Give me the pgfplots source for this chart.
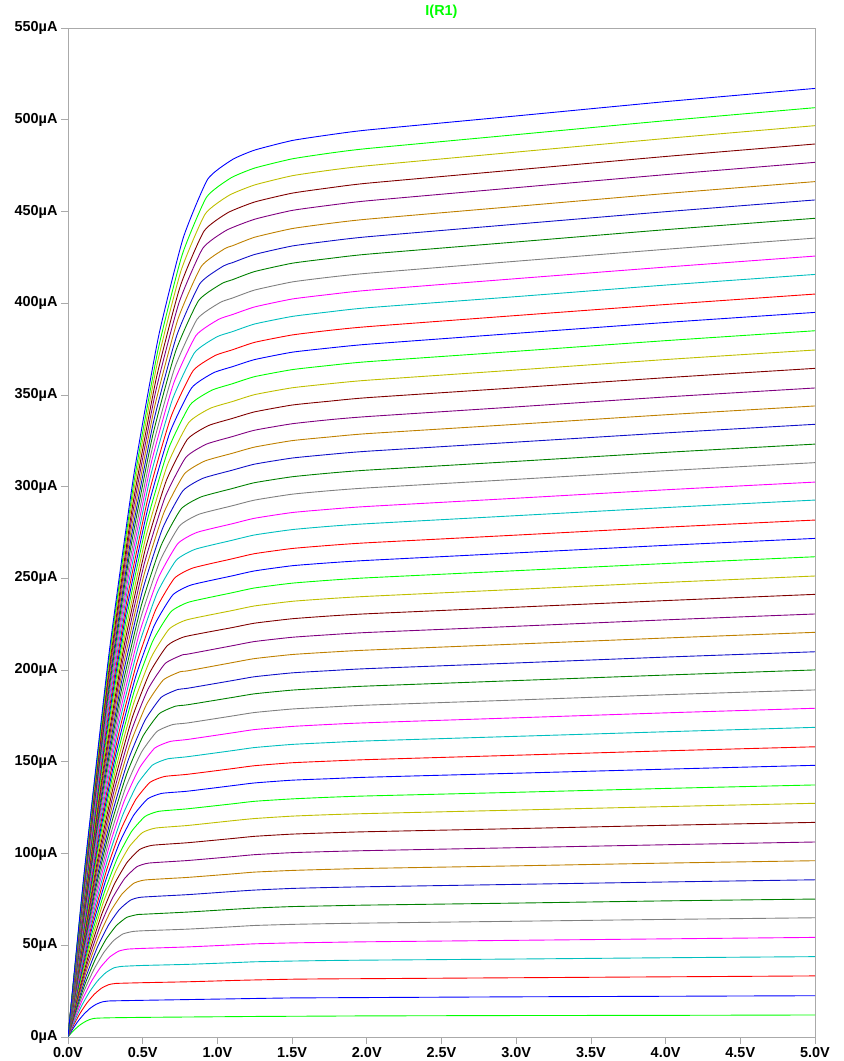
\documentclass[border=0pt]{standalone}
\usepackage{fontspec}
\setmainfont{Liberation Sans}
\usepackage{pgfplots}
\pgfplotsset{compat=1.18}
\definecolor{c1}{RGB}{0,255,0}
\definecolor{c2}{RGB}{0,0,255}
\definecolor{c3}{RGB}{255,0,0}
\definecolor{c4}{RGB}{0,191,191}
\definecolor{c5}{RGB}{255,0,255}
\definecolor{c6}{RGB}{128,128,128}
\definecolor{c7}{RGB}{0,128,0}
\definecolor{c8}{RGB}{16,16,200}
\definecolor{c9}{RGB}{191,128,0}
\definecolor{c10}{RGB}{128,0,128}
\definecolor{c11}{RGB}{128,0,0}
\definecolor{c12}{RGB}{191,191,0}
\definecolor{framegray}{RGB}{170,170,170}
\begin{document}
\begin{tikzpicture}
\path[use as bounding box] (0,0) rectangle (844bp,1061bp);
\begin{axis}[
  at={(68bp,24bp)}, anchor=south west,
  scale only axis, width=747bp, height=1009bp,
  xmin=0, xmax=5, ymin=0, ymax=550,
  xtick={0,0.5,1,1.5,2,2.5,3,3.5,4,4.5,5},
  xticklabels={0.0V,0.5V,1.0V,1.5V,2.0V,2.5V,3.0V,3.5V,4.0V,4.5V,5.0V},
  ytick={0,50,100,150,200,250,300,350,400,450,500,550},
  yticklabels={0µA,50µA,100µA,150µA,200µA,250µA,300µA,350µA,400µA,450µA,500µA,550µA},
  tick align=outside, xtick pos=bottom, ytick pos=left,
  major tick length=7bp,
  every tick/.style={color=framegray, line width=0.8bp},
  axis line style={color=framegray, line width=1bp},
  ticklabel style={font=\fontsize{14.5}{14.5}\selectfont\bfseries},
  title={\textcolor{c1}{I(R1)}},
  title style={font=\fontsize{14.5}{14.5}\selectfont\bfseries, at={(0.5,1)}, anchor=center, yshift=10bp},
  every axis plot/.append style={line width=0.9bp, smooth, tension=0.3},
]
\addplot[c1] coordinates {(0,0)(0.0202,2.0)(0.0505,4.5)(0.0808,6.6)(0.1111,8.2)(0.1414,9.4)(0.1717,10.1)(0.202,10.3)(0.3,10.5)(0.5,10.7)(0.8,10.9)(1.1,11.1)(1.25,11.2)(1.5,11.3)(1.75,11.4)(2,11.5)(3,11.7)(4,11.8)(5,12.0)};
\addplot[c2] coordinates {(0,0)(0.0268,3.7)(0.067,8.6)(0.1072,12.5)(0.1474,15.6)(0.1876,17.8)(0.2278,19.1)(0.268,19.6)(0.3,19.7)(0.5,20.0)(0.8,20.4)(1.1,20.8)(1.25,21.0)(1.5,21.3)(1.75,21.4)(2,21.5)(3,21.9)(4,22.2)(5,22.5)};
\addplot[c3] coordinates {(0,0)(0.032,5.6)(0.08,12.8)(0.128,18.7)(0.176,23.3)(0.224,26.6)(0.272,28.5)(0.32,29.2)(0.5,29.6)(0.8,30.1)(1.1,30.8)(1.25,31.1)(1.5,31.5)(1.75,31.7)(2,31.8)(3,32.3)(4,32.8)(5,33.3)};
\addplot[c4] coordinates {(0,0)(0.0362,7.3)(0.0905,16.9)(0.1448,24.7)(0.1991,30.7)(0.2534,35.1)(0.3077,37.7)(0.362,38.5)(0.5,39.0)(0.8,39.6)(1.1,40.5)(1.25,41.0)(1.5,41.4)(1.75,41.7)(2,41.9)(3,42.5)(4,43.2)(5,43.8)};
\addplot[c5] coordinates {(0,0)(0.0399,9.1)(0.0998,21.0)(0.1596,30.7)(0.2195,38.2)(0.2793,43.6)(0.3392,46.8)(0.399,47.9)(0.5,48.3)(0.8,49.1)(1.1,50.2)(1.25,50.8)(1.5,51.3)(1.75,51.6)(2,51.9)(3,52.7)(4,53.5)(5,54.3)};
\addplot[c6] coordinates {(0,0)(0.0433,10.9)(0.1083,25.2)(0.1732,36.8)(0.2382,45.9)(0.3031,52.4)(0.3681,56.2)(0.433,57.5)(0.5,57.9)(0.8,58.8)(1.1,60.1)(1.25,60.8)(1.5,61.4)(1.75,61.8)(2,62.1)(3,63.1)(4,64.1)(5,65.0)};
\addplot[c7] coordinates {(0,0)(0.0462,12.7)(0.1155,29.2)(0.1848,42.7)(0.2541,53.2)(0.3234,60.7)(0.3927,65.2)(0.462,66.7)(0.5,66.9)(0.8,68.1)(1.1,69.6)(1.25,70.3)(1.5,71.1)(1.75,71.5)(2,71.9)(3,73.0)(4,74.2)(5,75.2)};
\addplot[c8] coordinates {(0,0)(0.049,14.5)(0.1225,33.3)(0.196,48.8)(0.2695,60.8)(0.343,69.4)(0.4165,74.5)(0.49,76.2)(0.8,77.6)(1.1,79.3)(1.25,80.1)(1.5,81.0)(1.75,81.5)(2,81.9)(3,83.2)(4,84.5)(5,85.7)};
\addplot[c9] coordinates {(0,0)(0.0516,16.3)(0.129,37.5)(0.2064,54.8)(0.2838,68.3)(0.3612,77.9)(0.4386,83.7)(0.516,85.6)(0.8,87.0)(1.1,88.9)(1.25,89.9)(1.5,90.8)(1.75,91.4)(2,91.9)(3,93.3)(4,94.8)(5,96.1)};
\addplot[c10] coordinates {(0,0)(0.054,18.0)(0.135,41.5)(0.216,60.7)(0.297,75.6)(0.378,86.3)(0.459,92.7)(0.54,94.8)(0.8,96.2)(1.1,98.3)(1.25,99.4)(1.5,100.5)(1.75,101.1)(2,101.6)(3,103.2)(4,104.8)(5,106.3)};
\addplot[c11] coordinates {(0,0)(0.0564,19.9)(0.141,45.7)(0.2256,66.9)(0.3102,83.3)(0.3948,95.1)(0.4794,102.2)(0.564,104.5)(0.8,105.9)(1.1,108.2)(1.25,109.4)(1.5,110.6)(1.75,111.3)(2,111.9)(3,113.6)(4,115.4)(5,117.0)};
\addplot[c12] coordinates {(0,0)(0.0586,21.7)(0.1465,49.8)(0.2344,72.9)(0.3223,90.9)(0.4102,103.7)(0.4981,111.4)(0.586,113.9)(0.8,115.3)(1.1,117.9)(1.25,119.1)(1.5,120.4)(1.75,121.2)(2,121.8)(3,123.7)(4,125.6)(5,127.4)};
\addplot[c1] coordinates {(0,0)(0.0606,23.4)(0.1515,53.8)(0.2424,78.7)(0.3333,98.1)(0.4242,111.9)(0.5151,120.2)(0.606,123.0)(0.8,124.4)(1.1,127.1)(1.25,128.5)(1.5,129.8)(1.75,130.7)(2,131.4)(3,133.4)(4,135.5)(5,137.4)};
\addplot[c2] coordinates {(0,0)(0.0627,25.2)(0.1568,58.1)(0.2508,85.0)(0.3449,105.9)(0.4389,120.8)(0.533,129.8)(0.627,132.8)(0.8,134.0)(1.1,137.0)(1.25,138.5)(1.5,140.0)(1.75,140.8)(2,141.6)(3,143.8)(4,146.0)(5,148.1)};
\addplot[c3] coordinates {(0,0)(0.0645,27.0)(0.1613,62.1)(0.258,90.9)(0.3548,113.2)(0.4515,129.2)(0.5483,138.8)(0.645,142.0)(0.8,143.2)(1.1,146.3)(1.25,147.9)(1.5,149.5)(1.75,150.4)(2,151.2)(3,153.6)(4,156.0)(5,158.2)};
\addplot[c4] coordinates {(0,0)(0.0665,28.8)(0.1663,66.3)(0.266,97.0)(0.3658,120.9)(0.4655,138.0)(0.5653,148.2)(0.665,151.6)(0.8,152.8)(1.1,156.1)(1.25,157.8)(1.5,159.5)(1.75,160.5)(2,161.4)(3,163.9)(4,166.4)(5,168.8)};
\addplot[c5] coordinates {(0,0)(0.0683,30.6)(0.1708,70.5)(0.2732,103.1)(0.3757,128.5)(0.4781,146.6)(0.5806,157.5)(0.683,161.1)(0.8,162.2)(1.1,165.8)(1.25,167.6)(1.5,169.3)(1.75,170.4)(2,171.3)(3,174.0)(4,176.7)(5,179.2)};
\addplot[c6] coordinates {(0,0)(0.07,32.4)(0.175,74.5)(0.28,109.0)(0.385,135.8)(0.49,155.0)(0.595,166.5)(0.7,170.3)(0.8,171.2)(1.1,175.0)(1.25,176.9)(1.5,178.8)(1.75,179.9)(2,180.9)(3,183.7)(4,186.6)(5,189.2)};
\addplot[c7] coordinates {(0,0)(0.0718,34.3)(0.1795,78.9)(0.2872,115.4)(0.3949,143.8)(0.5026,164.1)(0.6103,176.2)(0.718,180.3)(0.8,181.1)(1.1,185.1)(1.25,187.1)(1.5,189.1)(1.75,190.3)(2,191.3)(3,194.3)(4,197.3)(5,200.1)};
\addplot[c8] coordinates {(0,0)(0.0733,36.0)(0.1833,82.8)(0.2932,121.2)(0.4032,151.0)(0.5131,172.3)(0.6231,185.1)(0.733,189.4)(0.8,190.1)(1.1,194.3)(1.25,196.4)(1.5,198.5)(1.75,199.7)(2,200.8)(3,203.9)(4,207.1)(5,210.0)};
\addplot[c9] coordinates {(0,0)(0.075,37.8)(0.1875,87.1)(0.3,127.4)(0.4125,158.8)(0.525,181.2)(0.6375,194.6)(0.75,199.1)(0.8,199.6)(1.1,204.1)(1.25,206.3)(1.5,208.5)(1.75,209.8)(2,210.9)(3,214.2)(4,217.5)(5,220.6)};
\addplot[c10] coordinates {(0,0)(0.0765,39.6)(0.1913,91.1)(0.306,133.3)(0.4208,166.1)(0.5355,189.6)(0.6503,203.6)(0.765,208.3)(0.8,208.7)(1.1,213.3)(1.25,215.6)(1.5,217.9)(1.75,219.3)(2,220.5)(3,223.9)(4,227.4)(5,230.6)};
\addplot[c11] coordinates {(0,0)(0.0781,41.5)(0.1953,95.5)(0.3124,139.6)(0.4296,174.0)(0.5467,198.5)(0.6639,213.3)(0.781,218.2)(1.1,223.2)(1.25,225.6)(1.5,228.0)(1.75,229.5)(2,230.7)(3,234.3)(4,237.9)(5,241.3)};
\addplot[c12] coordinates {(0,0)(0.0795,43.2)(0.1988,99.5)(0.318,145.5)(0.4373,181.3)(0.5565,206.9)(0.6758,222.3)(0.795,227.4)(1.1,232.5)(1.25,235.0)(1.5,237.5)(1.75,239.0)(2,240.2)(3,244.0)(4,247.8)(5,251.3)};
\addplot[c1] coordinates {(0,0)(0.081,45.1)(0.2025,103.7)(0.324,151.8)(0.4455,189.1)(0.567,215.8)(0.6885,231.8)(0.81,237.1)(1.1,242.2)(1.25,244.8)(1.5,247.4)(1.75,249.0)(2,250.3)(3,254.2)(4,258.1)(5,261.8)};
\addplot[c2] coordinates {(0,0)(0.0824,46.8)(0.206,107.8)(0.3296,157.7)(0.4532,196.5)(0.5768,224.2)(0.7004,240.9)(0.824,246.4)(1.1,251.4)(1.25,254.1)(1.5,256.9)(1.75,258.5)(2,259.8)(3,263.9)(4,268.0)(5,271.8)};
\addplot[c3] coordinates {(0,0)(0.0837,48.6)(0.2093,111.9)(0.3348,163.7)(0.4604,203.9)(0.5859,232.7)(0.7115,250.0)(0.837,255.7)(1.1,260.7)(1.25,263.5)(1.5,266.3)(1.75,268.0)(2,269.4)(3,273.6)(4,277.9)(5,281.8)};
\addplot[c4] coordinates {(0,0)(0.0852,50.5)(0.213,116.3)(0.3408,170.2)(0.4686,212.1)(0.5964,242.0)(0.7242,259.9)(0.852,265.9)(1.1,270.8)(1.25,273.7)(1.5,276.6)(1.75,278.4)(2,279.8)(3,284.2)(4,288.6)(5,292.7)};
\addplot[c5] coordinates {(0,0)(0.0864,52.3)(0.216,120.3)(0.3456,176.0)(0.4752,219.4)(0.6048,250.3)(0.7344,268.9)(0.864,275.1)(1.1,279.8)(1.25,282.8)(1.5,285.9)(1.75,287.7)(2,289.2)(3,293.7)(4,298.3)(5,302.5)};
\addplot[c6] coordinates {(0,0)(0.0878,54.2)(0.2195,124.7)(0.3512,182.4)(0.4829,227.3)(0.6146,259.3)(0.7463,278.6)(0.878,285.0)(1.1,289.6)(1.25,292.7)(1.5,295.9)(1.75,297.8)(2,299.3)(3,304.0)(4,308.7)(5,313.1)};
\addplot[c7] coordinates {(0,0)(0.089,55.9)(0.2225,128.8)(0.356,188.4)(0.4895,234.8)(0.623,267.9)(0.7565,287.8)(0.89,294.4)(1.1,299.0)(1.25,302.2)(1.5,305.4)(1.75,307.4)(2,309.0)(3,313.8)(4,318.7)(5,323.2)};
\addplot[c8] coordinates {(0,0)(0.0904,57.9)(0.226,133.3)(0.3616,194.9)(0.4972,242.9)(0.6328,277.2)(0.7684,297.7)(0.904,304.6)(1.1,309.0)(1.25,312.3)(1.5,315.6)(1.75,317.6)(2,319.3)(3,324.3)(4,329.3)(5,334.0)};
\addplot[c9] coordinates {(0,0)(0.0916,59.7)(0.229,137.4)(0.3664,200.9)(0.5038,250.4)(0.6412,285.7)(0.7786,306.9)(0.916,314.0)(1.1,318.2)(1.25,321.6)(1.5,325.1)(1.75,327.1)(2,328.9)(3,334.0)(4,339.2)(5,344.0)};
\addplot[c10] coordinates {(0,0)(0.0927,61.4)(0.2318,141.4)(0.3708,206.9)(0.5099,257.8)(0.6489,294.1)(0.788,315.9)(0.927,323.2)(1.1,327.3)(1.25,330.8)(1.5,334.3)(1.75,336.5)(2,338.2)(3,343.5)(4,348.9)(5,353.8)};
\addplot[c11] coordinates {(0,0)(0.094,63.3)(0.235,145.8)(0.376,213.3)(0.517,265.8)(0.658,303.3)(0.799,325.8)(0.94,333.3)(1.1,337.2)(1.25,340.8)(1.5,344.5)(1.75,346.6)(2,348.5)(3,353.9)(4,359.4)(5,364.5)};
\addplot[c12] coordinates {(0,0)(0.0951,65.1)(0.2378,149.9)(0.3804,219.3)(0.5231,273.3)(0.6657,311.9)(0.8084,335.0)(0.951,342.7)(1.1,346.4)(1.25,350.2)(1.5,353.9)(1.75,356.1)(2,358.0)(3,363.6)(4,369.3)(5,374.5)};
\addplot[c1] coordinates {(0,0)(0.0963,67.0)(0.2408,154.3)(0.3852,225.7)(0.5297,281.2)(0.6741,320.9)(0.8186,344.7)(0.963,352.6)(1.1,356.1)(1.25,360.0)(1.5,363.8)(1.75,366.1)(2,368.1)(3,373.8)(4,379.6)(5,385.0)};
\addplot[c2] coordinates {(0,0)(0.0974,68.8)(0.2435,158.4)(0.3896,231.7)(0.5357,288.7)(0.6818,329.5)(0.8279,353.9)(0.974,362.1)(1.1,365.4)(1.25,369.3)(1.5,373.3)(1.75,375.6)(2,377.6)(3,383.6)(4,389.5)(5,395.0)};
\addplot[c3] coordinates {(0,0)(0.0985,70.6)(0.2463,162.5)(0.394,237.8)(0.5418,296.3)(0.6895,338.1)(0.8373,363.2)(0.985,371.5)(1.1,374.6)(1.25,378.7)(1.5,382.7)(1.75,385.2)(2,387.2)(3,393.3)(4,399.3)(5,405.0)};
\addplot[c4] coordinates {(0,0)(0.0997,72.5)(0.2493,167.0)(0.3988,244.3)(0.5484,304.4)(0.6979,347.3)(0.8475,373.1)(0.997,381.7)(1.1,384.5)(1.25,388.7)(1.5,392.8)(1.75,395.3)(2,397.5)(3,403.6)(4,409.9)(5,415.7)};
\addplot[c5] coordinates {(0,0)(0.1008,74.3)(0.252,171.1)(0.4032,250.4)(0.5544,312.0)(0.7056,356.0)(0.8568,382.4)(1.008,391.2)(1.1,393.8)(1.25,398.0)(1.5,402.3)(1.75,404.8)(2,407.0)(3,413.4)(4,419.7)(5,425.7)};
\addplot[c6] coordinates {(0,0)(0.1018,76.1)(0.2545,175.2)(0.4072,256.3)(0.5599,319.4)(0.7126,364.4)(0.8653,391.4)(1.018,400.4)(1.1,402.8)(1.25,407.2)(1.5,411.6)(1.75,414.2)(2,416.3)(3,422.9)(4,429.4)(5,435.5)};
\addplot[c7] coordinates {(0,0)(0.1029,78.0)(0.2573,179.7)(0.4116,262.9)(0.566,327.6)(0.7203,373.8)(0.8747,401.5)(1.029,410.7)(1.1,412.8)(1.25,417.3)(1.5,421.8)(1.75,424.4)(2,426.7)(3,433.4)(4,440.1)(5,446.3)};
\addplot[c8] coordinates {(0,0)(0.104,79.9)(0.26,183.9)(0.416,269.0)(0.572,335.2)(0.728,382.4)(0.884,410.8)(1.04,420.3)(1.1,422.1)(1.25,426.6)(1.5,431.2)(1.75,433.9)(2,436.2)(3,443.1)(4,449.9)(5,456.3)};
\addplot[c9] coordinates {(0,0)(0.105,81.7)(0.2625,188.0)(0.42,275.1)(0.5775,342.8)(0.735,391.1)(0.8925,420.1)(1.05,429.8)(1.1,431.3)(1.25,436.0)(1.5,440.7)(1.75,443.5)(2,445.8)(3,452.8)(4,459.8)(5,466.3)};
\addplot[c10] coordinates {(0,0)(0.1061,83.6)(0.2653,192.4)(0.4244,281.5)(0.5836,350.7)(0.7427,400.2)(0.9019,429.9)(1.061,439.8)(1.25,445.8)(1.5,450.6)(1.75,453.4)(2,455.8)(3,463.0)(4,470.1)(5,476.8)};
\addplot[c11] coordinates {(0,0)(0.1071,85.4)(0.2678,196.6)(0.4284,287.6)(0.5891,358.4)(0.7497,408.9)(0.9104,439.3)(1.071,449.4)(1.25,455.2)(1.5,460.0)(1.75,462.9)(2,465.4)(3,472.7)(4,480.0)(5,486.8)};
\addplot[c12] coordinates {(0,0)(0.108,87.2)(0.27,200.8)(0.432,293.7)(0.594,366.0)(0.756,417.6)(0.918,448.6)(1.08,458.9)(1.25,464.5)(1.5,469.5)(1.75,472.5)(2,474.9)(3,482.4)(4,489.8)(5,496.8)};
\addplot[c1] coordinates {(0,0)(0.109,89.0)(0.2725,204.9)(0.436,299.7)(0.5995,373.4)(0.763,426.1)(0.9265,457.7)(1.09,468.3)(1.25,473.7)(1.5,478.7)(1.75,481.8)(2,484.3)(3,491.9)(4,499.5)(5,506.6)};
\addplot[c2] coordinates {(0,0)(0.11,90.9)(0.275,209.3)(0.44,306.1)(0.605,381.5)(0.77,435.3)(0.935,467.6)(1.1,478.3)(1.25,483.5)(1.5,488.7)(1.75,491.8)(2,494.4)(3,502.1)(4,509.9)(5,517.1)};
\end{axis}
\end{tikzpicture}
\end{document}
